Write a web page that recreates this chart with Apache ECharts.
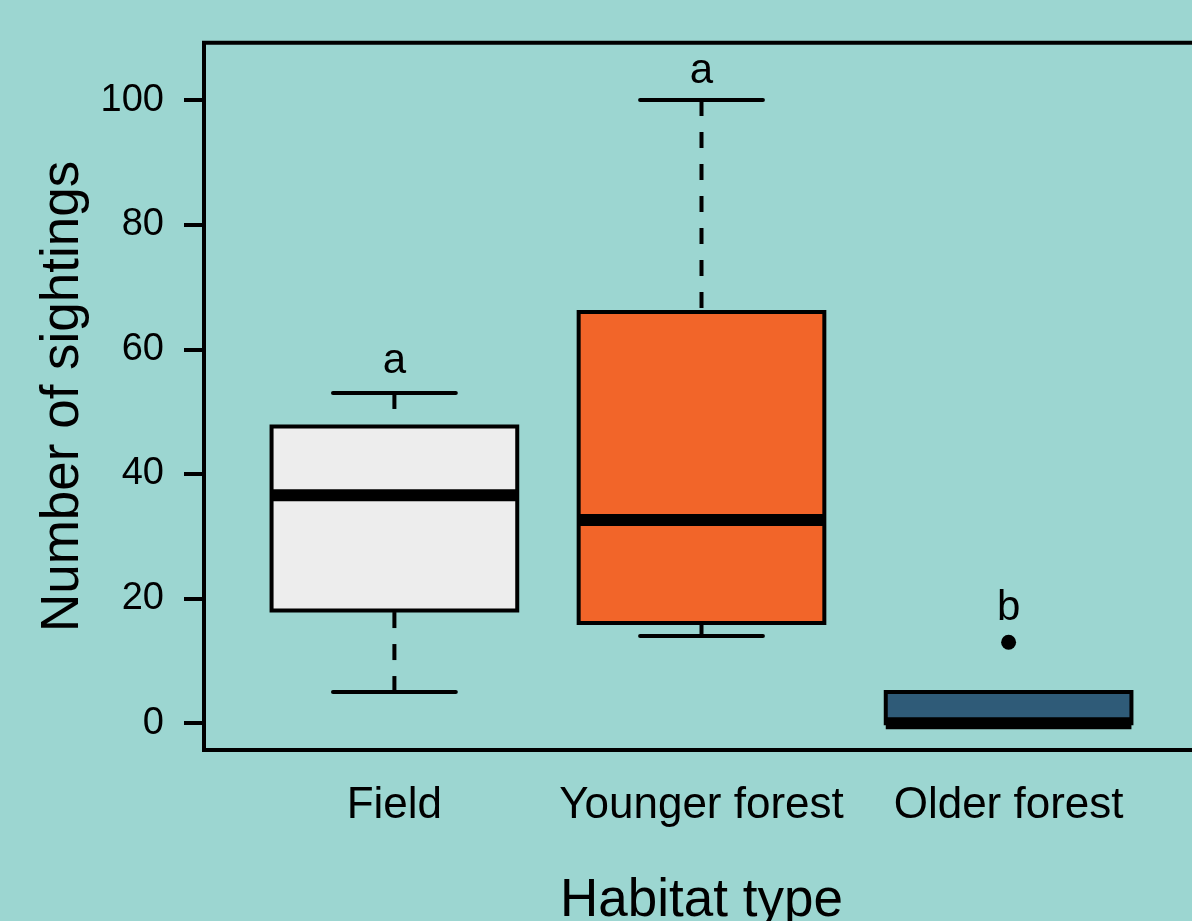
<!DOCTYPE html>
<html>
<head>
<meta charset="utf-8">
<script src="https://cdn.jsdelivr.net/npm/echarts@6/dist/echarts.min.js"></script>
<style>
html,body{margin:0;padding:0;background:#9CD6D1;}
#chart{width:1192px;height:921px;}
</style>
</head>
<body>
<div id="chart"></div>
<script>
const categories = ['Field', 'Younger forest', 'Older forest'];
const positions = [1, 2, 3];
const whiskerLow = [5, 14, 0];
const q1 = [18.1, 16.1, 0];
const medians = [36.6, 32.6, 0];
const q3 = [47.6, 66, 5];
const whiskerHigh = [53, 100, 5];
const outliers = [[3, 13]];
const boxColors = ['#EDEDED', '#F26529', '#2F5B78'];
const letters = ['a', 'a', 'b'];
const letterY = [58, 104.6, 18.5];
const yTicks = [0, 20, 40, 60, 80, 100];

const FONT = "'Liberation Sans', Arial, Helvetica, sans-serif";
const boxData = positions.map((p, i) => [p, whiskerLow[i], q1[i], medians[i], q3[i], whiskerHigh[i]]);
const letterData = positions.map((p, i) => [p, letterY[i], letters[i]]);

const chart = echarts.init(document.getElementById('chart'));
chart.setOption({
  backgroundColor: '#9CD6D1',
  animation: false,
  grid: {
    left: 204, top: 42.8, width: 995, height: 707.2,
    outerBoundsMode: 'none', containLabel: false,
    show: true, borderColor: '#000', borderWidth: 4, backgroundColor: 'transparent'
  },
  xAxis: {
    type: 'value', min: 0.38, max: 3.62,
    axisLine: { show: false }, axisTick: { show: false }, splitLine: { show: false },
    axisLabel: {
      customValues: positions, margin: 34,
      formatter: v => categories[Math.round(v) - 1] || '',
      color: '#000', fontSize: 44, fontFamily: FONT
    },
    name: 'Habitat type', nameLocation: 'middle', nameGap: 125,
    nameTextStyle: { color: '#000', fontSize: 53, fontFamily: FONT }
  },
  yAxis: {
    type: 'value', min: -4.3, max: 109.2,
    axisLine: { show: false }, splitLine: { show: false },
    axisTick: { show: true, customValues: yTicks, length: 20, inside: false, lineStyle: { color: '#000', width: 4 } },
    axisLabel: { customValues: yTicks, margin: 40, color: '#000', fontSize: 38, fontFamily: FONT },
    name: 'Number of sightings', nameLocation: 'middle', nameGap: 113, nameRotate: 90,
    nameTextStyle: { color: '#000', fontSize: 53, fontFamily: FONT }
  },
  series: [
    {
      type: 'custom',
      data: boxData,
      encode: { x: 0, y: [1, 2, 3, 4, 5] },
      renderItem: function (params, api) {
        const x = api.value(0);
        const lo = api.coord([x, api.value(1)]);
        const b1 = api.coord([x, api.value(2)]);
        const md = api.coord([x, api.value(3)]);
        const b3 = api.coord([x, api.value(4)]);
        const hi = api.coord([x, api.value(5)]);
        const halfBox = api.size([0.8, 0])[0] / 2;
        const halfCap = api.size([0.4, 0])[0] / 2;
        const cx = lo[0];
        const lw = 4;
        const dashed = { stroke: '#000', lineWidth: lw, lineDash: [16, 16], lineCap: 'butt' };
        const solid = { stroke: '#000', lineWidth: lw, lineCap: 'round' };
        return {
          type: 'group',
          children: [
            { type: 'line', shape: { x1: cx, y1: lo[1], x2: cx, y2: b1[1] }, style: dashed },
            { type: 'line', shape: { x1: cx, y1: hi[1], x2: cx, y2: b3[1] }, style: dashed },
            { type: 'line', shape: { x1: cx - halfCap, y1: lo[1], x2: cx + halfCap, y2: lo[1] }, style: solid },
            { type: 'line', shape: { x1: cx - halfCap, y1: hi[1], x2: cx + halfCap, y2: hi[1] }, style: solid },
            {
              type: 'rect',
              shape: { x: cx - halfBox, y: b3[1], width: halfBox * 2, height: b1[1] - b3[1] },
              style: { fill: boxColors[params.dataIndex], stroke: '#000', lineWidth: lw }
            },
            { type: 'line', shape: { x1: cx - halfBox, y1: md[1], x2: cx + halfBox, y2: md[1] },
              style: { stroke: '#000', lineWidth: 12, lineCap: 'butt' } }
          ]
        };
      }
    },
    {
      type: 'scatter',
      data: outliers,
      symbol: 'circle',
      symbolSize: 15,
      itemStyle: { color: '#000', opacity: 1 }
    },
    {
      type: 'custom',
      data: letterData,
      encode: { x: 0, y: 1 },
      renderItem: function (params, api) {
        const p = api.coord([api.value(0), api.value(1)]);
        return {
          type: 'text',
          x: p[0], y: p[1],
          style: {
            text: letters[params.dataIndex],
            fill: '#000', fontSize: 42, fontFamily: FONT,
            align: 'center', verticalAlign: 'middle'
          }
        };
      }
    }
  ]
});
</script>
</body>
</html>
